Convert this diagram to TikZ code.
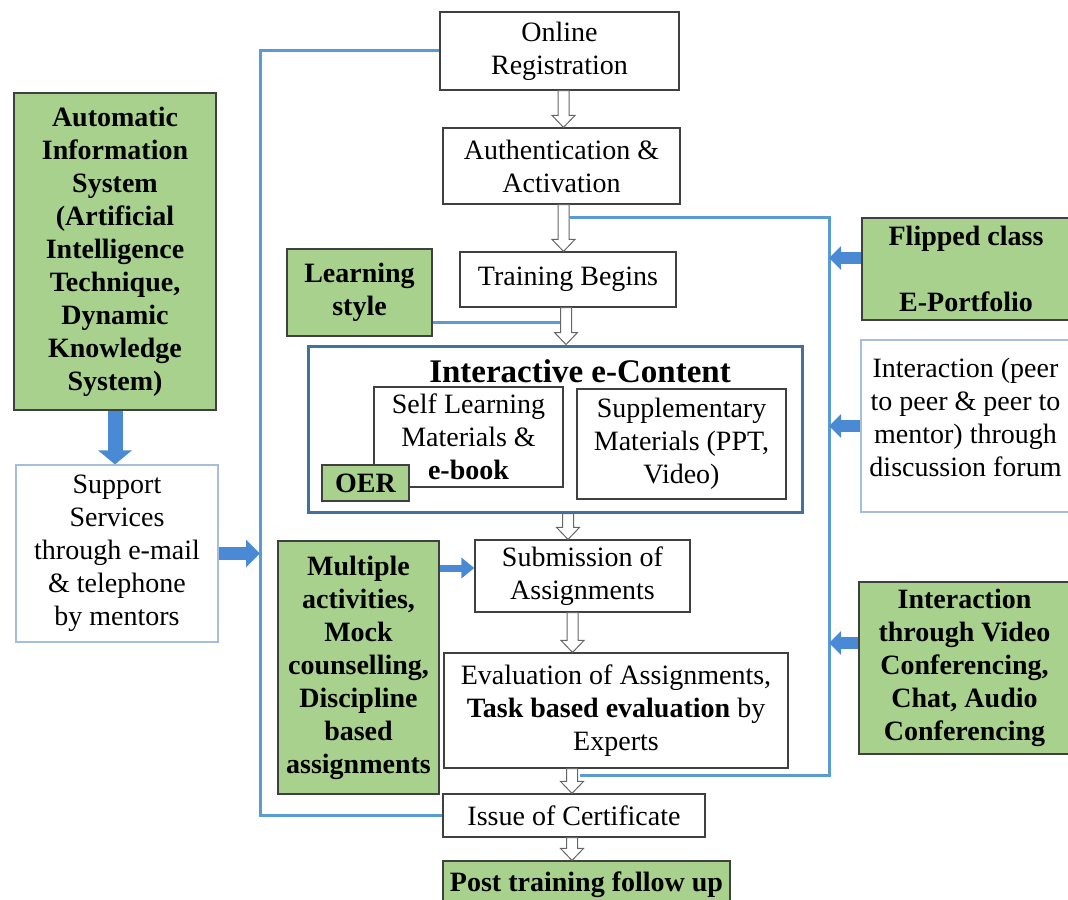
\documentclass[tikz,border=0pt]{standalone}
\usepackage{fontspec}
\setmainfont{Liberation Serif}
\usepackage{tikz}
\usetikzlibrary{positioning, arrows.meta, calc}

\definecolor{leafgreen}{HTML}{A9D18E}
\definecolor{linkblue}{HTML}{5B9BD5}
\definecolor{pushblue}{HTML}{4A8AD4}
\definecolor{frameblue}{HTML}{41719C}
\definecolor{softedge}{HTML}{A4BEDC}

% hollow block arrow from the south side of #2 to the north side of #3 (#1 = shift in px)
\newcommand{\hollowto}[3][0]{%
  \draw[hollow] let \p1=($(#2.south)+(#1,0)$), \p2=(#3.north) in
    (\x1-2.75pt,\y1) -- (\x1+2.75pt,\y1) -- (\x1+2.75pt,\y2+6pt) -- (\x1+5.75pt,\y2+6pt)
    -- (\x1,\y2) -- (\x1-5.75pt,\y2+6pt) -- (\x1-2.75pt,\y2+6pt) -- cycle;}

\begin{document}
\begin{tikzpicture}[x=0.5pt, y=-0.5pt,
    box/.style={draw=black!75, line width=0.6pt, fill=white, align=center, inner sep=1pt,
      font=\fontsize{14}{16.5}\selectfont},
    greenbox/.style={box, fill=leafgreen, font=\fontsize{14}{16.5}\selectfont\bfseries},
    softbox/.style={box, draw=softedge},
    hollow/.style={draw=black!60, line width=0.5pt, fill=white},
    loopline/.style={draw=linkblue, line width=1.5pt},
    pushline/.style={draw=pushblue, line width=6pt, -{Triangle[width=11.5pt,length=6pt]}}]
  \useasboundingbox (0,0) rectangle (1068,899);

  % Define the nodes
  \node (reg) [box, minimum width=119.5pt, minimum height=39pt] at (559.5,51) {Online\\Registration};
  \node (auth) [box, minimum width=118.5pt, minimum height=38pt] at (561.5,166) {Authentication \&\\Activation};
  \node (train) [box, minimum width=108pt, minimum height=27.5pt] at (568,279.5) {Training Begins};
  \node (style) [greenbox, minimum width=72.5pt, minimum height=43.5pt] at (359.5,292.5) {Learning\\style};

  \node (econtent) [box, draw=frameblue, line width=1.5pt, minimum width=247pt, minimum height=83pt] at (555,429) {};
  \node (title) [font=\fontsize{16.5}{19}\selectfont\bfseries] at (580,371) {Interactive e-Content};
  \node (selfl) [box, minimum width=94.5pt, minimum height=50pt] at (468.5,437) {Self Learning\\Materials \&\\\textbf{e-book}};
  \node (oer) [greenbox, minimum width=43.5pt, minimum height=18pt, inner sep=0pt] at (365.5,483) {OER};
  \node (suppl) [box, minimum width=104.5pt, minimum height=55pt] at (681.5,444) {Supplementary\\Materials (PPT,\\Video)};

  \node (subm) [box, minimum width=107.5pt, minimum height=36pt] at (582.5,576) {Submission of\\Assignments};
  \node (eval) [box, minimum width=172pt, minimum height=57.5pt] at (616,710.5) {Evaluation of Assignments,\\\textbf{Task based evaluation} by\\Experts};
  \node (cert) [box, minimum width=131pt, minimum height=21.5pt] at (574,815.5) {Issue of Certificate};
  \node (post) [greenbox, minimum width=143.5pt, minimum height=24pt] at (586.5,885) {Post training follow up};

  \node (ais) [greenbox, minimum width=101pt, minimum height=158.5pt] at (115,251.5) {Automatic\\Information\\System\\(Artificial\\Intelligence\\Technique,\\Dynamic\\Knowledge\\System)};
  \node (support) [softbox, minimum width=101pt, minimum height=88.5pt] at (117,553.5) {Support\\Services\\through e-mail\\\& telephone\\by mentors};
  \node (multi) [greenbox, minimum width=80.5pt, minimum height=126.5pt] at (358.5,667.5) {Multiple\\activities,\\Mock\\counselling,\\Discipline\\based\\assignments};

  \node (flip) [greenbox, minimum width=104pt, minimum height=51pt] at (966,269) {Flipped class\\[16.5pt]E-Portfolio};
  \node (peer) [softbox, minimum width=104.5pt, minimum height=86pt] at (965.5,426) {Interaction (peer\\to peer \& peer to\\mentor) through\\discussion forum\\[-7.5pt]\mbox{}};
  \node (video) [greenbox, minimum width=105.5pt, minimum height=86pt] at (964.5,668) {Interaction\\through Video\\Conferencing,\\Chat, Audio\\Conferencing};

  \coordinate (lcol) at (260,400);
  \coordinate (rcol) at (829,500);
  \coordinate (rstart) at ($(auth.south)+(7.5,13)$);
  \coordinate (rend) at ($(cert.north)+(6,-18)$);
  \coordinate (styleend) at ($(train.south)+(-8,15)$);

  % Connect the nodes with arrows
  \hollowto[4]{reg}{auth}
  \hollowto[2]{auth}{train}
  \hollowto[-2]{train}{econtent}
  \hollowto[13]{econtent}{subm}
  \hollowto[-10]{subm}{eval}
  \hollowto[-44]{eval}{cert}
  \hollowto[-2]{cert}{post}

  \draw[loopline] (reg.west) -| (lcol) |- (cert.west);
  \draw[loopline] (rstart) -| (rcol) |- (rend);
  \draw[loopline] (style.east |- styleend) -- (styleend);

  \draw[pushline, line width=7.5pt, -{Triangle[width=16.5pt,length=7pt]}] (ais.south) -- (ais.south |- support.north);
  \draw[pushline, line width=6.5pt, -{Triangle[width=13.5pt,length=7pt]}] (support.east) -- (support.east -| lcol);
  \draw[pushline, line width=3.5pt, -{Triangle[width=10pt,length=6.5pt]}] ([yshift=4pt]subm.west -| multi.east) -- ([yshift=4pt]subm.west);
  \draw[pushline] ([yshift=5.5pt]flip.west) -- ([yshift=5.5pt]flip.west -| rcol);
  \draw[pushline] (peer.west) -- (peer.west -| rcol);
  \draw[pushline] ([yshift=12.5pt]video.west) -- ([yshift=12.5pt]video.west -| rcol);
\end{tikzpicture}
\end{document}
